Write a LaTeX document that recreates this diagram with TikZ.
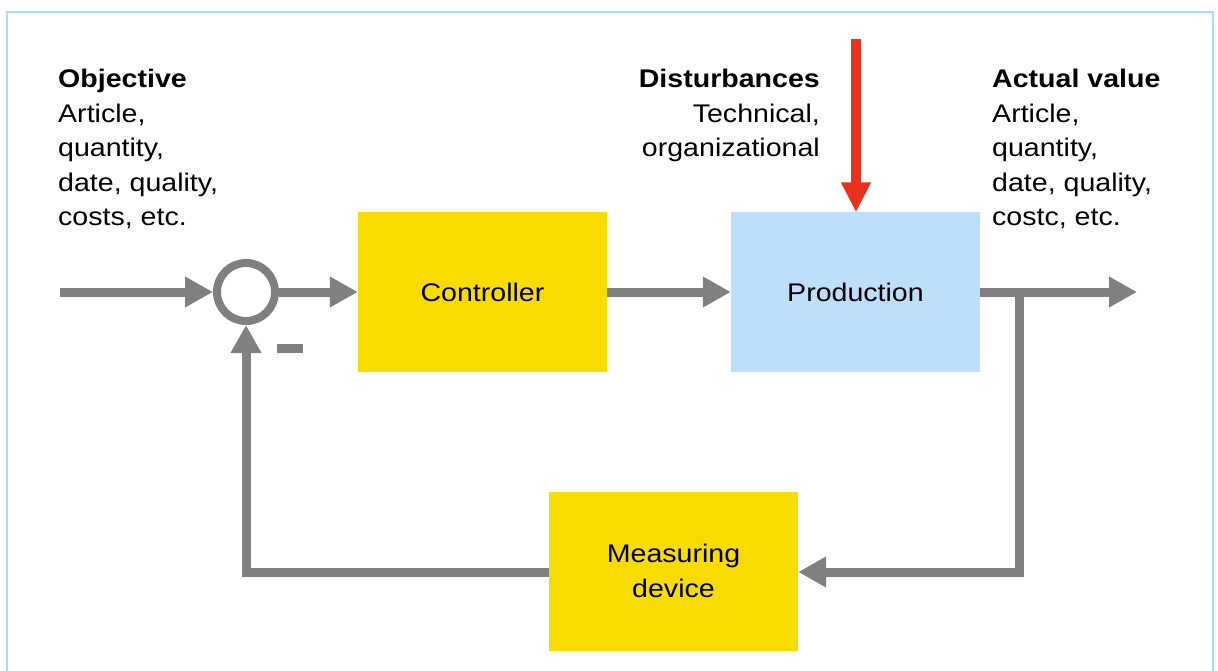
\documentclass[tikz,border=0pt]{standalone}
\usepackage{fontspec}
\setmainfont[FakeStretch=1.12]{Liberation Sans}
\usetikzlibrary{arrows.meta}
\definecolor{flowgray}{HTML}{808080}
\definecolor{boxyellow}{HTML}{F8DC00}
\definecolor{boxblue}{HTML}{BDDFFB}
\definecolor{framecol}{HTML}{A9DCF7}
\definecolor{distred}{HTML}{E8321E}
\tikzset{
  txt/.style={inner sep=0pt, font=\fontsize{25.5}{34.5}\selectfont},
  yblock/.style={fill=boxyellow, minimum width=249pt, minimum height=159pt, inner sep=0pt, align=center, font=\fontsize{25.5}{34.5}\selectfont},
  bblock/.style={yblock, fill=boxblue},
  sumnode/.style={circle, draw=flowgray, line width=8pt, minimum size=58pt, inner sep=0pt},
  flow/.style={draw=flowgray, line width=9pt, line join=miter, -{Triangle[length=28pt,width=29pt]}},
  redflow/.style={draw=distred, line width=10pt, -{Triangle[length=30pt,width=28pt]}},
}
\begin{document}
\begin{tikzpicture}[x=1pt,y=-1pt]
\useasboundingbox (0,0) rectangle (1218,671);
\fill[white] (0,0) rectangle (1218,671);
\draw[framecol, line width=2.5pt] (7,680) -- (7,12) -- (1213,12) -- (1213,680);

\node[yblock] (ctrl) at (482.5,292) {Controller};
\node[bblock] (prod) at (855.5,292) {Production};
\node[yblock] (meas) at (673.5,571) {Measuring\\device};
\node[sumnode] (sum) at (246,292) {};
\node[fill=flowgray, minimum width=26pt, minimum height=9pt, inner sep=0pt] (minus) at (290,348.5) {};

\coordinate (in) at (60,292);
\coordinate (out) at (1137,292);
\coordinate (br) at (1019,292);
\coordinate (brd) at (1019,572);
\coordinate (lc) at (246,572);
\coordinate (dist) at (856,39);

\draw[flow] (in) -- (sum.west);
\draw[flow] (sum.east) -- (ctrl.west);
\draw[flow] (ctrl.east) -- (prod.west);
\draw[flow] (prod.east) -- (out);
\draw[flow] (br) -- (brd) -- (meas.east |- brd);
\draw[flow] (meas.west |- lc) -- (lc) -- (sum.south);
\draw[redflow] (dist) -- (dist |- prod.north);

\node[txt, anchor=north west, align=left] (obj) at (58,69) {\textbf{Objective}\\Article,\\quantity,\\date, quality,\\costs, etc.};
\node[txt, anchor=north east, align=right] (dis) at (820,69) {\textbf{Disturbances}\\Technical,\\organizational};
\node[txt, anchor=north west, align=left] (act) at (992,69) {\textbf{Actual value}\\Article,\\quantity,\\date, quality,\\costc, etc.};
\end{tikzpicture}
\end{document}
